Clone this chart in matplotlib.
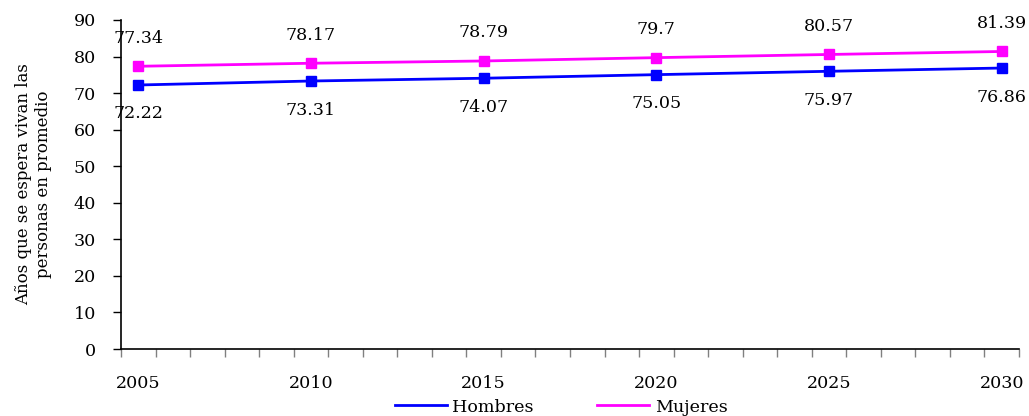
import matplotlib
matplotlib.use("Agg")
import matplotlib.pyplot as plt
from matplotlib.lines import Line2D
from matplotlib.ticker import FixedLocator, NullFormatter

years = [2005, 2010, 2015, 2020, 2025, 2030]
hombres = [72.22, 73.31, 74.07, 75.05, 75.97, 76.86]
mujeres = [77.34, 78.17, 78.79, 79.70, 80.57, 81.39]
year_labels = ["2005", "2010", "2015", "2020", "2025", "2030"]
mujeres_text = ["77.34", "78.17", "78.79", "79.7", "80.57", "81.39"]
hombres_text = ["72.22", "73.31", "74.07", "75.05", "75.97", "76.86"]

plt.rcParams['font.family'] = ['DejaVu Serif']
FS = 12.6
BLUE = '#0000FF'
MAGENTA = '#FF00FF'

fig = plt.figure(figsize=(10.29, 4.16), dpi=100)
ax = fig.add_axes([121 / 1029, (416 - 349) / 416, (1019 - 121) / 1029, (349 - 20) / 416])

ax.plot(years, hombres, color=BLUE, lw=2, marker='s', ms=7, label='Hombres')
ax.plot(years, mujeres, color=MAGENTA, lw=2, marker='s', ms=7, label='Mujeres')

for x, y, t in zip(years, mujeres, mujeres_text):
    ax.annotate(t, (x, y), xytext=(0, 28), textcoords='offset pixels',
                ha='center', va='center', fontsize=FS)
for x, y, t in zip(years, hombres, hombres_text):
    ax.annotate(t, (x, y), xytext=(0, -29), textcoords='offset pixels',
                ha='center', va='center', fontsize=FS)

ax.set_xlim(2004.5, 2030.5)
ax.set_ylim(0, 90)
ax.set_yticks(range(0, 91, 10))
ax.tick_params(axis='y', labelsize=FS, length=6, width=1, color='black', pad=12)

# Year boundaries carry the tick marks; labels sit at the data years
ax.xaxis.set_major_locator(FixedLocator([2004.5 + k for k in range(27)]))
ax.xaxis.set_major_formatter(NullFormatter())
ax.xaxis.set_minor_locator(FixedLocator(years))
ax.set_xticklabels(year_labels, minor=True)
ax.tick_params(axis='x', which='major', length=6, width=1, color='#808080')
ax.tick_params(axis='x', which='minor', length=0, labelsize=FS, pad=19)

for s in ['top', 'right']:
    ax.spines[s].set_visible(False)
for s in ['left', 'bottom']:
    ax.spines[s].set_linewidth(1.2)
    ax.spines[s].set_color('black')

fig.text(33.5 / 1029, 1 - 184.5 / 416,
         "Años que se espera vivan las\npersonas en promedio",
         rotation=90, ha='center', va='center', fontsize=12, linespacing=1.25,
         multialignment='center')

handles = [Line2D([], [], color=BLUE, lw=2), Line2D([], [], color=MAGENTA, lw=2)]
fig.legend(handles, ['Hombres', 'Mujeres'], loc='center',
           bbox_to_anchor=(561 / 1029, 1 - 407 / 416), ncol=2,
           frameon=False, fontsize=FS, handlelength=3.0, handletextpad=0.3,
           columnspacing=3.6, borderaxespad=0, borderpad=0)

fig.savefig('out.png', dpi=100)
